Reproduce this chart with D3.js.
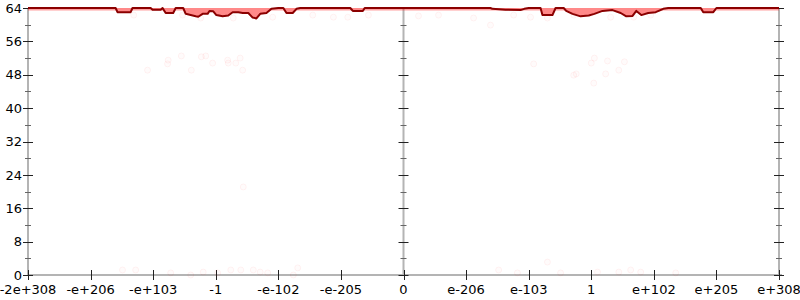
<!DOCTYPE html>
<html>
<head>
<meta charset="utf-8">
<script src="https://cdn.jsdelivr.net/npm/d3@7"></script>
<style>
  body { margin: 0; background: #fff; }
  svg text { font-family: "DejaVu Sans", sans-serif; font-size: 13px; fill: #000; }
</style>
</head>
<body>
<div id="chart"></div>
<script>
    var width = 800,
        height = 300;

    // x positions are in flonum-ordinal units, one unit per labelled tick
    var xTickValues = [-6, -5, -4, -3, -2, -1, 0, 1, 2, 3, 4, 5, 6];
    var xTickLabels = ["-2e+308", "-e+206", "-e+103", "-1", "-e-102", "-e-205", "0",
                       "e-206", "e-103", "1", "e+102", "e+205", "e+308"];
    var yTickValues = [0, 8, 16, 24, 32, 40, 48, 56, 64];

    // mean bits of precision (line)
    var lineX = [-6, -4.60, -4.57, -4.36, -4.33, -4.04, -4.01, -3.88, -3.85, -3.80, -3.68, -3.64,
                 -3.52, -3.48, -3.40, -3.32, -3.28, -3.21, -3.13, -3.10, -3.04, -2.99, -2.89, -2.80,
                 -2.73, -2.64, -2.57, -2.48, -2.41, -2.35, -2.29, -2.19, -2.11, -2.00, -1.92, -1.87,
                 -1.77, -1.71, -1.65, -0.85, -0.81, -0.65, -0.62, 0,
                 1.39, 1.42, 1.63, 1.87, 1.93, 2.00, 2.19, 2.22, 2.38, 2.43, 2.56, 2.60, 2.70, 2.83,
                 2.96, 3.05, 3.18, 3.34, 3.47, 3.56, 3.66, 3.72, 3.80, 3.91, 4.03, 4.15, 4.23, 4.75,
                 4.79, 4.95, 5.00, 6];
    var lineBits = [64, 64, 63, 63, 64, 64, 63.6, 63.6, 64, 62.8, 62.8, 64,
                    64, 62.6, 62.3, 62.0, 61.9, 62.6, 62.6, 63.3, 63.2, 62.3, 62.0, 62.2,
                    63, 63, 62.8, 62.8, 61.7, 61.5, 62.6, 62.8, 63.8, 64, 64, 62.8,
                    62.8, 63.8, 64, 64, 63.3, 63.3, 64, 64,
                    64, 63.8, 63.6, 63.5, 63.8, 64, 64, 62.3, 62.3, 64, 64, 63.3, 62.6, 62.0,
                    62.2, 62.6, 63.3, 63.5, 62.8, 62.0, 62.1, 63.3, 62.3, 62.8, 63.0, 63.8, 64, 64,
                    63, 63, 64, 64];

    // individual samples (faint points)
    var pointX = [-4.09, -3.77, -3.76, -3.55, -3.39, -3.23, -3.16, -3.05, -2.81, -2.80, -2.68, -2.61,
                  -2.57, -2.56, 2.08, 2.72, 2.76, 3.00, 3.05, 3.26, 3.23, 3.44, 3.53, 3.04,
                  -4.49, -4.28, -3.72, -3.40, -3.20, -2.97, -2.76, -2.60, -2.40, -2.29, -2.17, -1.76,
                  -1.69, 1.52, 1.82, 2.30, 2.51, 3.10, 3.44, 3.63, 3.79, 4.35,
                  -4.31, -3.53, -3.24, -2.72, -2.09, -1.45, -1.12, -0.89, -0.56, 0.24, 0.56, 1.12,
                  1.39, 1.76, 2.03, 2.30, 2.72, 3.31, 3.68, 3.95];
    var pointBits = [49.1, 50.6, 51.5, 52.5, 49.1, 52.3, 52.5, 50.8, 51.5, 50.8, 50.8, 52.0,
                     49.1, 21.1, 50.6, 47.9, 48.2, 50.8, 52.0, 51.3, 48.2, 49.1, 51.1, 46.0,
                     1.2, 1.2, 0.5, 0, 0.7, 0.5, 1.2, 1.2, 1.2, 0.7, 0.5, 0,
                     1.7, 1.2, 0.5, 3.1, 0.5, 0.7, 0.7, 1.2, 0.7, 0.5,
                     62.3, 62.3, 61.6, 61.6, 61.8, 62.3, 61.8, 61.8, 62.3, 62.1, 62.3, 61.6,
                     59.9, 62.3, 61.8, 61.6, 62.3, 61.8, 61.8, 62.3];

    var svg = d3.select("#chart")
            .append("svg")
            .attr("width", width)
            .attr("height", height);

    var x = d3.scaleLinear().domain([-6, 6]).range([28, 779]);
    var y = d3.scaleLinear().domain([0, 64]).range([275, 8]);

    var line = lineX.map(function(d, i) { return { x: d, v: lineBits[i] }; });
    var points = pointX.map(function(d, i) { return { x: d, v: pointBits[i] }; });

    // axis lines
    var axisColor = "#b4b4b4";
    [-6, 0, 6].forEach(function(v) {
        svg.append("line")
            .attr("x1", x(v)).attr("x2", x(v))
            .attr("y1", y(64)).attr("y2", y(0))
            .attr("stroke", axisColor).attr("stroke-width", 2);
    });
    svg.append("line")
        .attr("x1", x(-6)).attr("x2", x(6) + 3)
        .attr("y1", y(0)).attr("y2", y(0))
        .attr("stroke", axisColor).attr("stroke-width", 2);

    // y ticks on the three vertical axes
    var yMinor = d3.range(0, 65, 4);
    [-6, 0, 6].forEach(function(v) {
        var g = svg.append("g");
        g.selectAll("line")
            .data(yMinor)
            .enter().append("line")
            .attr("x1", function(d) { return x(v) - (d % 8 == 0 ? 5 : 3); })
            .attr("x2", function(d) { return x(v) + (d % 8 == 0 ? 5 : 3); })
            .attr("y1", function(d) { return Math.round(y(d)) + 0.5; })
            .attr("y2", function(d) { return Math.round(y(d)) + 0.5; })
            .attr("stroke", function(d) { return d % 8 == 0 ? "#222" : "#666"; })
            .attr("stroke-width", 1);
    });

    svg.append("g").selectAll("text")
        .data(yTickValues)
        .enter().append("text")
        .attr("x", x(-6) - 6)
        .attr("y", function(d) { return y(d); })
        .attr("dy", "0.36em")
        .attr("text-anchor", "end")
        .text(function(d) { return d; });

    // x ticks
    svg.append("g").selectAll("line")
        .data(xTickValues)
        .enter().append("line")
        .attr("x1", function(d) { return Math.round(x(d)) + 0.5; })
        .attr("x2", function(d) { return Math.round(x(d)) + 0.5; })
        .attr("y1", y(0) - 5)
        .attr("y2", y(0) + 5)
        .attr("stroke", "#222")
        .attr("stroke-width", 1);

    svg.append("g").selectAll("text")
        .data(xTickValues)
        .enter().append("text")
        .attr("x", function(d) { return x(d); })
        .attr("y", y(0) + 19)
        .attr("text-anchor", "middle")
        .text(function(d, i) { return xTickLabels[i]; });

    // faint sample points
    svg.append("g").selectAll("circle")
        .data(points)
        .enter().append("circle")
        .attr("cx", function(d) { return x(d.x); })
        .attr("cy", function(d) { return y(d.v); })
        .attr("r", 3)
        .attr("fill", "rgba(255,0,0,0.015)")
        .attr("stroke", "rgba(255,0,0,0.05)")
        .attr("stroke-width", 1);

    // light fill between the mean line and 64
    var dip = d3.area()
        .x(function(d) { return x(d.x); })
        .y0(function(d) { return y(d.v); })
        .y1(function() { return y(64); });

    svg.append("path")
        .datum(line)
        .attr("d", dip)
        .attr("fill", "rgba(255,60,60,0.2)");

    // brighter band just under the top
    var band = d3.area()
        .x(function(d) { return x(d.x); })
        .y0(function(d) { return y(Math.min(d.v, 63.4)); })
        .y1(function() { return y(64); });

    svg.append("path")
        .datum(line)
        .attr("d", band)
        .attr("fill", "rgba(255,20,20,0.4)");

    var path = d3.line()
        .x(function(d) { return x(d.x); })
        .y(function(d) { return y(d.v); });

    svg.append("path")
        .datum(line)
        .attr("d", path)
        .attr("fill", "none")
        .attr("stroke", "#8b0000")
        .attr("stroke-width", 2)
        .attr("stroke-linejoin", "round");
</script>
</body>
</html>
